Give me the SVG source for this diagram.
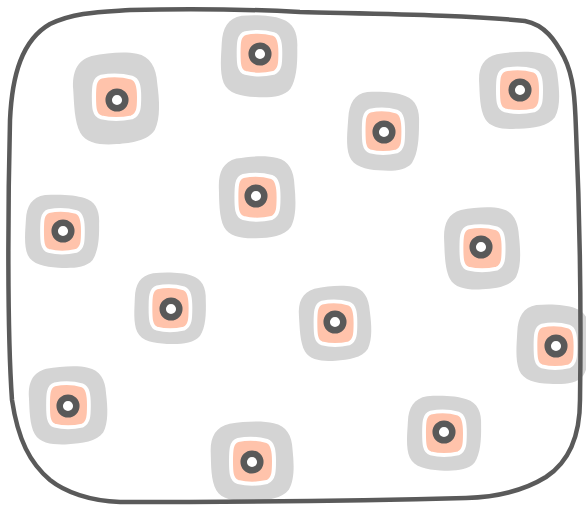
<svg xmlns="http://www.w3.org/2000/svg" xmlns:xlink="http://www.w3.org/1999/xlink" width="586" height="510" viewBox="0 0 586 510">
<style>
.blob{fill:#d4d4d4}
.core{fill:#ffc3ab;stroke:#ffffff;stroke-width:4}
.ring{fill:#ffffff;stroke:#595959;stroke-width:6.5}
.border{fill:none;stroke:#5a5a5a;stroke-width:4.5;stroke-linejoin:round;stroke-linecap:round}
</style>
<defs>
<path id="blobShape" d="M -20,-38 C -5,-40 12,-40 22,-37 C 34,-34 39,-24 39,-10 C 40,5 40,20 34,30 C 27,39 12,40 -2,40 C -16,40 -30,38 -35,28 C -40,18 -39,2 -39,-10 C -39,-25 -34,-35 -20,-38 Z"/>
<path id="coreShape" d="M -14,-21 C -4,-23 8,-22 15,-20 C 21,-18 22,-10 22,0 C 22,10 22,18 15,21 C 6,23 -6,23 -14,21 C -21,19 -21,10 -21,0 C -21,-10 -21,-19 -14,-21 Z"/>
</defs>
<rect width="586" height="510" fill="#ffffff"/>
<g id="cell1" transform="translate(116,98)"><use xlink:href="#blobShape" class="blob" transform="scale(1.08,1.15) rotate(-4)"/><use xlink:href="#coreShape" class="core" transform="translate(0,-1) scale(1.05,0.97)"/><circle class="ring" cx="1" cy="2" r="8.3"/></g>
<g id="cell2" transform="translate(259,56)"><use xlink:href="#blobShape" class="blob" transform="scale(0.97,1.03) rotate(3)"/><use xlink:href="#coreShape" class="core" transform="translate(0,-3) scale(0.97,0.95)"/><circle class="ring" cx="1" cy="-2" r="8.3"/></g>
<g id="cell3" transform="translate(519,90)"><use xlink:href="#blobShape" class="blob" transform="scale(1.01,0.97) rotate(-3)"/><use xlink:href="#coreShape" class="core" transform="scale(1.0,0.97)"/><circle class="ring" cx="1" cy="0" r="8.3"/></g>
<g id="cell4" transform="translate(383,131)"><use xlink:href="#blobShape" class="blob" transform="scale(0.91,0.99) rotate(4)"/><use xlink:href="#coreShape" class="core" transform="scale(0.92,0.97)"/><circle class="ring" cx="1" cy="1" r="8.3"/></g>
<g id="cell5" transform="translate(257,197)"><use xlink:href="#blobShape" class="blob" transform="scale(0.97,1.03) rotate(-2)"/><use xlink:href="#coreShape" class="core" transform="scale(0.98,1.0)"/><circle class="ring" cx="-1" cy="-1" r="8.3"/></g>
<g id="cell6" transform="translate(62,231)"><use xlink:href="#blobShape" class="blob" transform="scale(0.94,0.92) rotate(3)"/><use xlink:href="#coreShape" class="core" transform="scale(0.95,0.95)"/><circle class="ring" cx="1" cy="0" r="8.3"/></g>
<g id="cell7" transform="translate(482,248)"><use xlink:href="#blobShape" class="blob" transform="scale(0.96,1.03) rotate(-3)"/><use xlink:href="#coreShape" class="core" transform="scale(0.98,0.98)"/><circle class="ring" cx="-1" cy="-1" r="8.3"/></g>
<g id="cell8" transform="translate(170,308)"><use xlink:href="#blobShape" class="blob" transform="scale(0.91,0.9) rotate(2)"/><use xlink:href="#coreShape" class="core" transform="scale(0.93,0.98)"/><circle class="ring" cx="1" cy="1" r="8.3"/></g>
<g id="cell9" transform="translate(335,323)"><use xlink:href="#blobShape" class="blob" transform="scale(0.91,0.94) rotate(-4)"/><use xlink:href="#coreShape" class="core" transform="scale(0.93,0.97)"/><circle class="ring" cx="0" cy="-1" r="8.3"/></g>
<g id="cell10" transform="translate(553,344)"><use xlink:href="#blobShape" class="blob" transform="scale(0.93,1.0) rotate(3)"/><use xlink:href="#coreShape" class="core" transform="translate(2,2) scale(0.93,0.97)"/><circle class="ring" cx="3" cy="2" r="8.3"/></g>
<g id="cell11" transform="translate(68,405)"><use xlink:href="#blobShape" class="blob" transform="scale(0.99,0.98) rotate(-3)"/><use xlink:href="#coreShape" class="core" transform="scale(0.95,0.98)"/><circle class="ring" cx="0" cy="1" r="8.3"/></g>
<g id="cell12" transform="translate(252,461)"><use xlink:href="#blobShape" class="blob" transform="scale(1.05,1.0) rotate(-2)"/><use xlink:href="#coreShape" class="core" transform="scale(1.0,1.0)"/><circle class="ring" cx="0" cy="1" r="8.3"/></g>
<g id="cell13" transform="translate(444,433)"><use xlink:href="#blobShape" class="blob" transform="scale(0.94,0.94) rotate(3)"/><use xlink:href="#coreShape" class="core" transform="scale(0.95,0.97)"/><circle class="ring" cx="0" cy="-1" r="8.3"/></g>
<g id="container">
<path class="border" d="M 10,120 C 12,75 22,40 50,24 C 75,12 100,12 130,10 C 200,8 262,10 300,12 C 380,14 470,15 525,21 C 545,25 555,40 564,57 C 574,77 575,100 576,130 C 580,220 581,330 580,400 C 580,430 572,460 546,477 C 525,490 500,497 466,498 C 350,501 200,502 120,502 C 90,501 65,492 50,480 C 30,463 18,440 12,400 C 7,330 8,200 10,120 Z"/>
</g>
</svg>
